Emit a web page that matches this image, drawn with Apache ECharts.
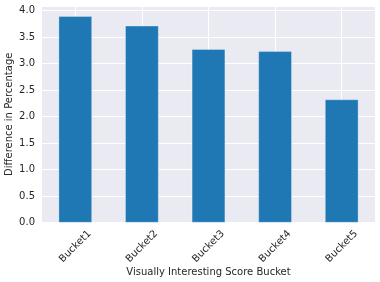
<!DOCTYPE html>
<html>
<head>
<meta charset="utf-8">
<script src="https://cdn.jsdelivr.net/npm/echarts@6/dist/echarts.min.js"></script>
<style>html,body{margin:0;padding:0;background:#fff}#c{width:380px;height:282px}</style>
</head>
<body>
<div id="c"></div>
<script>
const categories = ['Bucket1', 'Bucket2', 'Bucket3', 'Bucket4', 'Bucket5'];
const values = [3.89, 3.71, 3.27, 3.23, 2.32];
const yTicks = [0, 0.5, 1.0, 1.5, 2.0, 2.5, 3.0, 3.5, 4.0];

const chart = echarts.init(document.getElementById('c'), null, {renderer: 'canvas'});
const font = 'DejaVu Sans';
const txt = '#262626';
chart.setOption({
  animation: false,
  backgroundColor: '#ffffff',
  grid: {left: 42, right: 5, top: 6, bottom: 59.5, show: true, backgroundColor: '#eaeaf2', borderWidth: 0,
         containLabel: false, outerBoundsMode: 'none'},
  xAxis: {
    type: 'category',
    data: categories,
    name: 'Visually Interesting Score Bucket',
    nameLocation: 'middle',
    nameGap: 45,
    nameMoveOverlap: false,
    nameTextStyle: {fontFamily: font, fontSize: 10, color: txt},
    axisLine: {show: false},
    axisTick: {show: false},
    splitLine: {show: true, alignWithLabel: true, lineStyle: {color: '#ffffff', width: 1}},
    axisLabel: {
      rotate: 45, align: 'center', verticalAlign: 'middle', margin: 24,
      fontFamily: font, fontSize: 10, color: txt
    }
  },
  yAxis: {
    type: 'value',
    min: 0, max: 4.085, interval: 0.5,
    name: 'Difference in Percentage',
    nameLocation: 'middle',
    nameGap: 28,
    nameMoveOverlap: false,
    nameTextStyle: {fontFamily: font, fontSize: 10, color: txt},
    axisLine: {show: false},
    axisTick: {show: false},
    splitLine: {show: true, lineStyle: {color: '#ffffff', width: 1}},
    axisLabel: {
      showMaxLabel: false,
      margin: 7,
      fontFamily: font, fontSize: 10, color: txt,
      formatter: v => yTicks.some(t => Math.abs(t - v) < 1e-9) ? v.toFixed(1) : ''
    }
  },
  series: [{
    type: 'bar',
    data: values,
    barWidth: '50%',
    itemStyle: {color: '#1f77b4', borderColor: 'rgba(255,255,255,0.6)', borderWidth: 0.5}
  }]
});
</script>
</body>
</html>
